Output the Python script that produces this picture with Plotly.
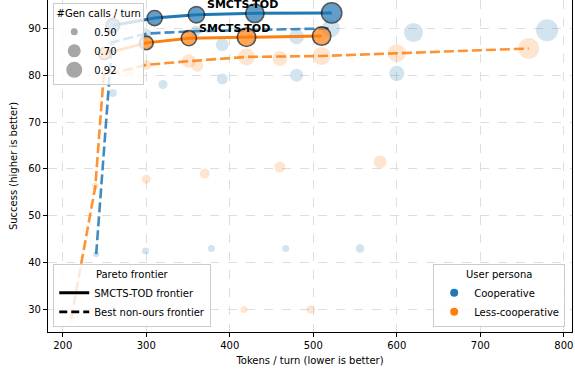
import plotly.graph_objects as go

BLUE = "#1f77b4"
ORANGE = "#ff7f0e"

# ---- SMCTS-TOD (ours) frontier points ----
ours_coop_tokens = [260, 310, 360, 430, 522]
ours_coop_success = [90.6, 92.2, 92.9, 93.2, 93.3]
ours_coop_gen = [0.72, 0.77, 0.81, 0.88, 0.94]

ours_less_tokens = [250, 300, 351, 420, 510]
ours_less_success = [84.6, 86.9, 87.9, 88.1, 88.35]
ours_less_gen = [0.66, 0.72, 0.77, 0.88, 0.88]

# ---- other configurations (faded) ----
base_coop_tokens = [240, 299, 378, 467, 556, 260, 259, 301, 320, 359, 391, 391, 480, 480, 521, 600, 620, 780]
base_coop_success = [41.8, 42.5, 43.0, 43.0, 43.0, 76.2, 87.0, 88.9, 78.0, 89.4, 86.5, 79.2, 88.2, 80.0, 90.0, 80.4, 89.1, 89.6]
base_coop_gen = [0.47, 0.5, 0.5, 0.5, 0.55, 0.53, 0.55, 0.57, 0.57, 0.63, 0.7, 0.63, 0.77, 0.7, 0.87, 0.77, 0.9, 1.0]

base_less_tokens = [210, 340, 417, 497, 239, 300, 370, 460, 580, 249, 281, 300, 351, 361, 420, 460, 510, 600, 758]
base_less_success = [28.0, 30.0, 30.0, 30.0, 56.3, 57.8, 59.0, 60.4, 61.5, 80.0, 80.4, 82.2, 83.0, 82.0, 83.9, 83.6, 84.1, 84.7, 85.7]
base_less_gen = [0.5, 0.47, 0.5, 0.55, 0.5, 0.57, 0.6, 0.63, 0.7, 0.5, 0.53, 0.6, 0.73, 0.67, 0.83, 0.77, 0.87, 0.87, 0.97]

# ---- best non-ours frontier ----
best_coop_tokens = [240, 259, 301, 359, 521]
best_coop_success = [41.8, 87.0, 88.9, 89.4, 90.0]
best_less_tokens = [210, 239, 249, 300, 351, 420, 510, 600, 758]
best_less_success = [28.0, 56.3, 80.0, 82.2, 83.0, 83.9, 84.1, 84.7, 85.7]

# ---- legends / ticks ----
size_legend_values = [0.50, 0.70, 0.92]
persona_names = ["Cooperative", "Less-cooperative"]
x_ticks = [200, 300, 400, 500, 600, 700, 800]
y_ticks = [30, 40, 50, 60, 70, 80, 90]


def sz(gs):
    return [30 * g - 8 for g in gs]


FONT = "DejaVu Sans"
fig = go.Figure()

# faded points
fig.add_trace(go.Scatter(x=base_coop_tokens, y=base_coop_success, mode="markers",
                         marker=dict(color=BLUE, opacity=0.2, size=sz(base_coop_gen), line=dict(width=0)),
                         showlegend=False, hoverinfo="skip"))
fig.add_trace(go.Scatter(x=base_less_tokens, y=base_less_success, mode="markers",
                         marker=dict(color=ORANGE, opacity=0.2, size=sz(base_less_gen), line=dict(width=0)),
                         showlegend=False, hoverinfo="skip"))

# best non-ours dashed frontiers
fig.add_trace(go.Scatter(x=best_coop_tokens, y=best_coop_success, mode="lines",
                         line=dict(color=BLUE, width=2.6, dash="10px,4px"), opacity=0.85,
                         showlegend=False, hoverinfo="skip"))
fig.add_trace(go.Scatter(x=best_less_tokens, y=best_less_success, mode="lines",
                         line=dict(color=ORANGE, width=2.6, dash="10px,4px"), opacity=0.85,
                         showlegend=False, hoverinfo="skip"))

# ours frontier
fig.add_trace(go.Scatter(x=ours_coop_tokens, y=ours_coop_success, mode="lines+markers",
                         line=dict(color=BLUE, width=3),
                         marker=dict(color=BLUE, size=sz(ours_coop_gen), line=dict(color="#111111", width=1.6)),
                         showlegend=False, hoverinfo="skip"))
fig.add_trace(go.Scatter(x=ours_less_tokens, y=ours_less_success, mode="lines+markers",
                         line=dict(color=ORANGE, width=3),
                         marker=dict(color=ORANGE, size=sz(ours_less_gen), line=dict(color="#111111", width=1.6)),
                         showlegend=False, hoverinfo="skip"))

# legend: sizes
for v, s in zip(size_legend_values, sz(size_legend_values)):
    fig.add_trace(go.Scatter(x=[None], y=[None], mode="markers", name=f"{v:.2f}",
                             marker=dict(color="#a6a6a6", size=s, line=dict(width=0)),
                             legend="legend"))
# legend: frontier style
fig.add_trace(go.Scatter(x=[None], y=[None], mode="lines", name="SMCTS-TOD frontier",
                         line=dict(color="black", width=3), legend="legend2"))
fig.add_trace(go.Scatter(x=[None], y=[None], mode="lines", name="Best non-ours frontier",
                         line=dict(color="black", width=2.6, dash="8px,4px"), legend="legend2"))
# legend: persona
for n, c in zip(persona_names, [BLUE, ORANGE]):
    fig.add_trace(go.Scatter(x=[None], y=[None], mode="markers", name=n,
                             marker=dict(color=c, size=8), legend="legend3"))

# labels
for xt, yt in [(ours_coop_tokens[3], ours_coop_success[3]), (ours_less_tokens[3], ours_less_success[3])]:
    fig.add_annotation(x=xt, y=yt, text="SMCTS-TOD", showarrow=False, xshift=-12, yshift=9,
                       font=dict(family=FONT, size=11, color="black", weight="bold"))

legend_common = dict(bgcolor="rgba(255,255,255,0.8)", bordercolor="#cccccc", borderwidth=1,
                     font=dict(family=FONT, size=10, color="black"))

fig.update_layout(
    width=575, height=376,
    margin=dict(l=48, r=3, t=0, b=44),
    paper_bgcolor="white", plot_bgcolor="white",
    font=dict(family=FONT, size=10, color="black"),
    legend=dict(x=0.01, y=0.99, xanchor="left", yanchor="top",
                title=dict(text="#Gen calls / turn", side="top center", font=dict(family=FONT, size=10)),
                itemsizing="trace", **legend_common),
    legend2=dict(x=0.01, y=0.014, xanchor="left", yanchor="bottom",
                 title=dict(text="Pareto frontier", side="top center", font=dict(family=FONT, size=10)),
                 **legend_common),
    legend3=dict(x=0.987, y=0.014, xanchor="right", yanchor="bottom",
                 title=dict(text="User persona", side="top center", font=dict(family=FONT, size=10)),
                 **legend_common),
)
fig.update_xaxes(range=[182.3, 809.8], tickvals=x_ticks, ticktext=[str(t) for t in x_ticks],
                 showgrid=True, gridcolor="#dedede", griddash="dash", gridwidth=0.8,
                 showline=True, linecolor="black", linewidth=1.1, mirror=False,
                 ticks="outside", ticklen=4, tickcolor="black", zeroline=False,
                 tickfont=dict(family=FONT, size=10),
                 title=dict(text="Tokens / turn (lower is better)", font=dict(family=FONT, size=10), standoff=6))
fig.update_yaxes(range=[25.2, 96.05], tickvals=y_ticks, ticktext=[str(t) for t in y_ticks],
                 showgrid=True, gridcolor="#dedede", griddash="dash", gridwidth=0.8,
                 showline=True, linecolor="black", linewidth=1.1, mirror=True,
                 ticks="outside", ticklen=4, tickcolor="black", zeroline=False,
                 tickfont=dict(family=FONT, size=10),
                 title=dict(text="Success (higher is better)", font=dict(family=FONT, size=10), standoff=8))

fig.write_html("out.html", config={"displayModeBar": False},
               post_script="document.body.style.margin='0';document.body.style.overflow='hidden';")
